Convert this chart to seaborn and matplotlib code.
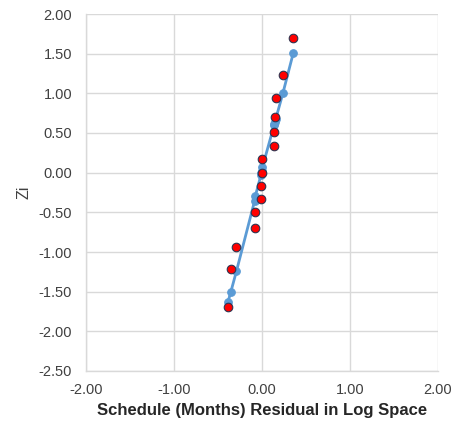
import matplotlib
matplotlib.use("Agg")
import matplotlib.pyplot as plt
import seaborn as sns
import pandas as pd

# Data
resid_x = [-0.387, -0.356, -0.290, -0.085, -0.077, -0.012, -0.006, 0.000, 0.005,
           0.138, 0.141, 0.149, 0.157, 0.237, 0.356]
zi_obs = [-1.69, -1.22, -0.94, -0.70, -0.50, -0.33, -0.17, 0.00, 0.17,
          0.33, 0.51, 0.70, 0.94, 1.23, 1.70]
zi_fit = [-1.63, -1.51, -1.24, -0.36, -0.30, -0.03, 0.00, 0.02, 0.07,
          0.60, 0.61, 0.64, 0.68, 1.00, 1.51]
x_ticks = [-2.0, -1.0, 0.0, 1.0, 2.0]
y_ticks = [-2.5, -2.0, -1.5, -1.0, -0.5, 0.0, 0.5, 1.0, 1.5, 2.0]

df = pd.DataFrame({"x": resid_x, "obs": zi_obs, "fit": zi_fit})

sns.set_style("white")
plt.rcParams["font.family"] = ["Liberation Sans", "DejaVu Sans"]

fig = plt.figure(figsize=(4.6, 4.21), dpi=100)
ax = fig.add_axes([86/460, 1 - 371/421, 352/460, 357/421])

sns.lineplot(data=df, x="x", y="fit", ax=ax, color="#5b9bd5", linewidth=2,
             marker="o", markersize=5.5, markeredgecolor="#5b9bd5", zorder=3,
             sort=False)
sns.scatterplot(data=df, x="x", y="obs", ax=ax, color="#ff0000", s=38,
                edgecolor="#2f3450", linewidth=0.8, zorder=4)

ax.set_xlim(-2, 2)
ax.set_ylim(-2.5, 2)
ax.set_xticks(x_ticks)
ax.set_yticks(y_ticks)
ax.set_xticklabels([f"{v:.2f}" for v in x_ticks])
ax.set_yticklabels([f"{v:.2f}" for v in y_ticks])
ax.tick_params(axis="both", labelsize=10.5, colors="#404040", length=0)
ax.tick_params(axis="y", pad=10)
ax.tick_params(axis="x", pad=9)
ax.grid(True, color="#d9d9d9", linewidth=1)
ax.set_axisbelow(True)
for side in ["top", "right"]:
    ax.spines[side].set_visible(False)
for side in ["left", "bottom"]:
    ax.spines[side].set_color("#d9d9d9")
    ax.spines[side].set_linewidth(1)

ax.set_xlabel("Schedule (Months) Residual in Log Space", fontsize=12,
              fontweight="bold", color="#262626", labelpad=4)
ax.set_ylabel("Zi", fontsize=11.5, color="#404040", labelpad=5)

fig.savefig("out.png", dpi=100)
